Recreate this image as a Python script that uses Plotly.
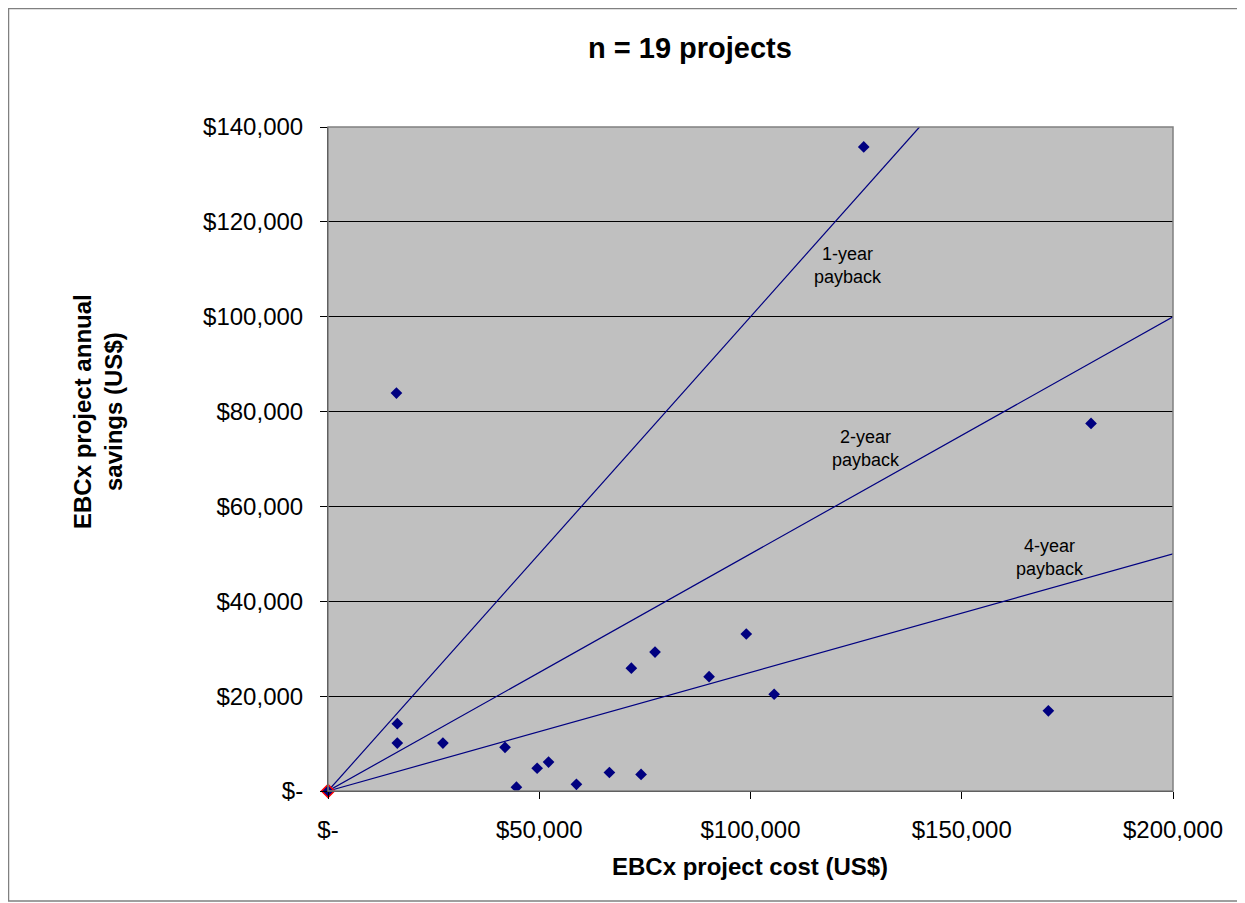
import plotly.graph_objects as go

# Project data (cost, annual savings) in US$
project_cost = [16400, 16400, 27200, 41900, 44600, 49500, 52200, 58800, 66600, 74100,
                105600, 71800, 77400, 90200, 99000, 180600, 170500, 16200, 126800]
project_savings = [14200, 10100, 10100, 9200, 800, 4800, 6100, 1400, 3900, 3500,
                   20400, 25900, 29300, 24100, 33100, 77500, 16900, 83900, 135800]

origin_x = [0]
origin_y = [0]

# Payback lines: savings = cost / years
payback_years = [1, 2, 4]
payback_labels = ["1-year<br>payback", "2-year<br>payback", "4-year<br>payback"]
label_x = [123000, 127300, 170900]
label_y = [110900, 72300, 49300]
line_cost_end = [140000, 200000, 200000]

x_tickvals = [0, 50000, 100000, 150000, 200000]
x_ticktext = ["$-", "$50,000", "$100,000", "$150,000", "$200,000"]
y_tickvals = [0, 20000, 40000, 60000, 80000, 100000, 120000, 140000]
y_ticktext = ["$-", "$20,000", "$40,000", "$60,000", "$80,000", "$100,000", "$120,000", "$140,000"]

NAVY = "#000080"
FONT = "Liberation Sans, Arial, sans-serif"

fig = go.Figure()

for yrs, xend in zip(payback_years, line_cost_end):
    fig.add_trace(go.Scatter(x=[0, xend], y=[0, xend / yrs], mode="lines",
                             line=dict(color=NAVY, width=1.2), hoverinfo="skip",
                             showlegend=False))

fig.add_trace(go.Scatter(x=project_cost, y=project_savings, mode="markers",
                         marker=dict(symbol="diamond", size=9, color=NAVY,
                                     line=dict(width=0)),
                         showlegend=False))

fig.add_trace(go.Scatter(x=origin_x, y=origin_y, mode="markers",
                         marker=dict(symbol="diamond", size=10, color=NAVY,
                                     line=dict(width=1.5, color="red")),
                         showlegend=False, cliponaxis=False))

for txt, lx, ly in zip(payback_labels, label_x, label_y):
    fig.add_annotation(x=lx, y=ly, text=txt, showarrow=False,
                       xanchor="center", yanchor="middle",
                       font=dict(family=FONT, size=18, color="black"))

# page is offset by 8px body margin
OFF = 8
W, H = 1245 - OFF, 903 - OFF
L, R, T, B = 320, 72, 119, 112
pw, ph = W - L - R, H - T - B

def px(X):
    return (X - OFF - L) / pw

def py(Y):
    return (H - B - (Y - OFF)) / ph

fig.add_annotation(xref="paper", yref="paper", x=px(690), y=py(48),
                   xanchor="center", yanchor="middle",
                   text="<b>n = 19 projects</b>", showarrow=False,
                   font=dict(family=FONT, size=29, color="black"))
fig.add_annotation(xref="paper", yref="paper", x=px(750), y=py(866),
                   xanchor="center", yanchor="middle",
                   text="<b>EBCx project cost (US$)</b>", showarrow=False,
                   font=dict(family=FONT, size=24, color="black"))
fig.add_annotation(xref="paper", yref="paper", x=px(98), y=py(412),
                   xanchor="center", yanchor="middle",
                   text="<b>EBCx project annual<br>savings (US$)</b>", showarrow=False,
                   textangle=-90,
                   font=dict(family=FONT, size=24, color="black"))

fig.add_shape(type="rect", xref="paper", yref="paper",
              x0=px(8.5), x1=px(1239), y0=py(901), y1=py(8.5),
              line=dict(color="#808080", width=1.5), layer="below")

fig.update_layout(
    width=W, height=H,
    margin=dict(l=L, r=R, t=T, b=B),
    paper_bgcolor="white",
    plot_bgcolor="#C0C0C0",
    font=dict(family=FONT, size=24, color="black"),
    xaxis=dict(range=[0, 200000], tickvals=x_tickvals, ticktext=x_ticktext,
               showgrid=False, zeroline=False, showline=True, linecolor="black",
               linewidth=1, ticks="outside", ticklen=7, tickcolor="black",
               ticklabelstandoff=10, tickfont=dict(size=24)),
    yaxis=dict(range=[0, 140000], tickvals=y_tickvals, ticktext=y_ticktext,
               showgrid=True, gridcolor="black", gridwidth=1, zeroline=False,
               showline=True, linecolor="black", linewidth=1, ticks="outside",
               ticklen=7, tickcolor="black", ticklabelstandoff=12,
               tickfont=dict(size=24)),
)

fig.add_shape(type="rect", xref="paper", yref="paper", x0=0, x1=1, y0=0, y1=1,
              line=dict(color="#808080", width=1.5), layer="above")

fig.write_html("out.html")
